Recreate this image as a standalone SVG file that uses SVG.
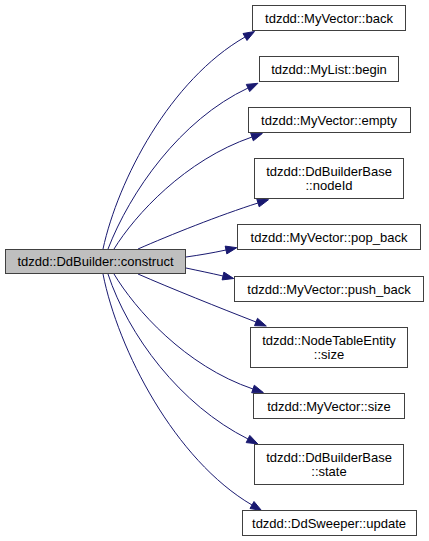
<svg xmlns="http://www.w3.org/2000/svg" width="429" height="541" viewBox="0 0 429 541">
<style>
.node rect{fill:#ffffff;stroke:#404040;stroke-width:1}
.node.main rect{fill:#bfbfbf}
.node text{font-family:"Liberation Sans",Arial,Helvetica,sans-serif;font-size:13px;fill:#000000;text-anchor:middle}
.edges path{fill:none;stroke:#191970;stroke-width:1}
.edges polygon{fill:#191970;stroke:#191970;stroke-width:1}
</style>
<rect width="429" height="541" fill="#ffffff"/>
<g id="edges" class="edges">
<path d="M103,249 C118,180 170,80 245,37"/><polygon points="254.5,31.5 247,40.5 243,33.5"/>
<path d="M108,249 C130,192 180,120 248,88"/><polygon points="257.9,83.3 249.7,91.6 246.3,84.4"/>
<path d="M114,249 C135,215 185,160 252,137"/><polygon points="262.4,133.4 253.3,140.8 250.7,133.2"/>
<path d="M138,249 C170,235 220,215 258,203"/><polygon points="268.5,199.7 259.2,206.8 256.8,199.2"/>
<path d="M186,257 C200,255 212,253 226,250"/><polygon points="236.8,247.7 226.8,253.9 225.2,246.1"/>
<path d="M186,268 C200,271 210,273 223,276"/><polygon points="233.7,278.5 222.1,279.9 223.9,272.1"/>
<path d="M138,274 C170,288 220,308 256,322"/><polygon points="266.3,326 254.5,325.7 257.5,318.3"/>
<path d="M114,274 C135,309 185,366 253,389"/><polygon points="263.4,392.6 251.7,392.8 254.3,385.2"/>
<path d="M108,274 C128,335 180,405 248,439"/><polygon points="257.8,443.9 246.2,442.6 249.8,435.4"/>
<path d="M103,274 C118,350 175,460 252,505"/><polygon points="261.5,510.5 250,508.5 254,501.5"/>
</g>
<g id="construct" class="node main"><rect x="5.5" y="249.5" width="180" height="24"/><text x="95.5" y="266">tdzdd::DdBuilder::construct</text></g>
<g id="back" class="node"><rect x="252.5" y="5.5" width="153" height="25"/><text x="329" y="22.5">tdzdd::MyVector::back</text></g>
<g id="begin" class="node"><rect x="259.5" y="56.5" width="139" height="25"/><text x="329" y="73.5">tdzdd::MyList::begin</text></g>
<g id="empty" class="node"><rect x="248.5" y="107.5" width="162" height="25"/><text x="329" y="124.5">tdzdd::MyVector::empty</text></g>
<g id="nodeId" class="node"><rect x="254.5" y="158.5" width="149" height="40"/><text x="329" y="176">tdzdd::DdBuilderBase</text><text x="329" y="190">::nodeId</text></g>
<g id="pop_back" class="node"><rect x="237.5" y="224.5" width="183" height="25"/><text x="329" y="241.5">tdzdd::MyVector::pop_back</text></g>
<g id="push_back" class="node"><rect x="234.5" y="276.5" width="189" height="25"/><text x="329" y="293.5">tdzdd::MyVector::push_back</text></g>
<g id="nte_size" class="node"><rect x="250.5" y="327.5" width="157" height="40"/><text x="329" y="345">tdzdd::NodeTableEntity</text><text x="329" y="359">::size</text></g>
<g id="mv_size" class="node"><rect x="253.5" y="393.5" width="151" height="25"/><text x="329" y="410.5">tdzdd::MyVector::size</text></g>
<g id="state" class="node"><rect x="254.5" y="444.5" width="149" height="40"/><text x="329" y="462">tdzdd::DdBuilderBase</text><text x="329" y="476">::state</text></g>
<g id="update" class="node"><rect x="242.5" y="510.5" width="174" height="25"/><text x="329" y="527.5">tdzdd::DdSweeper::update</text></g>
</svg>
